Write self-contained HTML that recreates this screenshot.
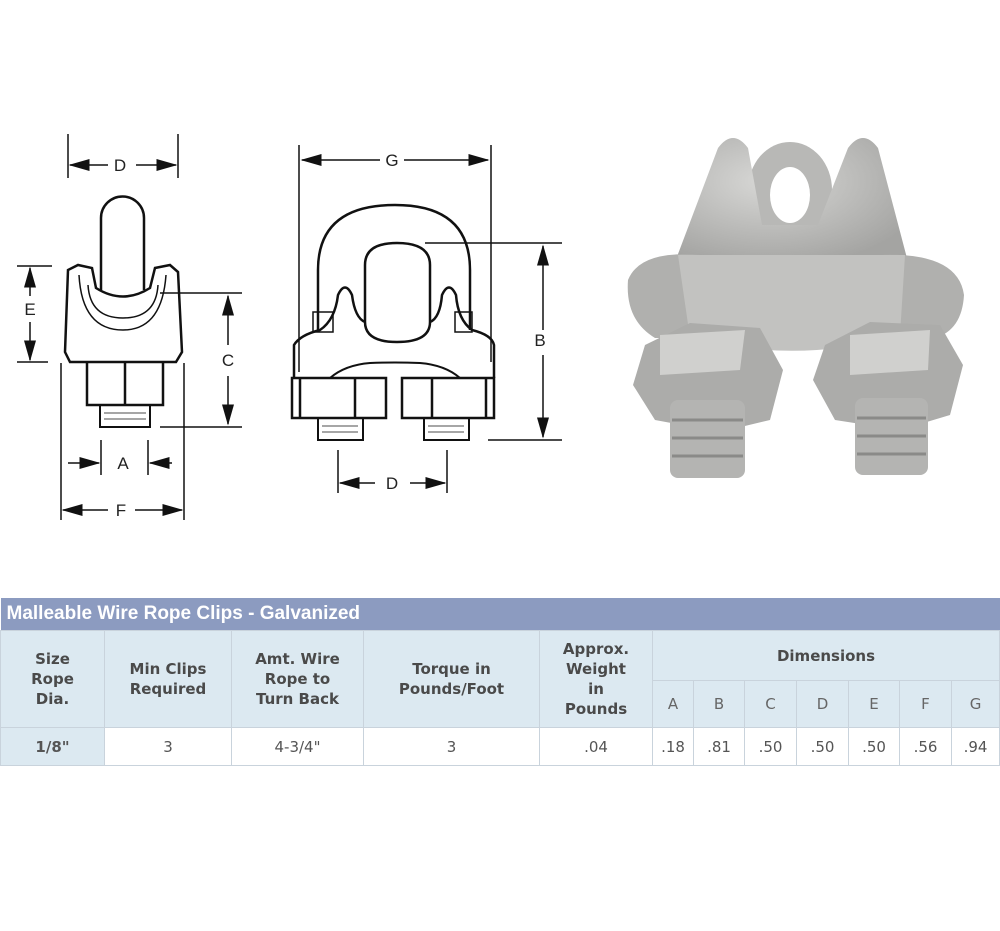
<!DOCTYPE html>
<html><head><meta charset="utf-8"><style>
body{margin:0;background:#fff;width:1000px;height:931px;position:relative;overflow:hidden;font-family:"Liberation Sans",sans-serif}
svg{position:absolute;left:0;top:0}
table{position:absolute;left:0;top:598px;width:1000px;border-collapse:collapse;font-family:"DejaVu Sans","Liberation Sans",sans-serif;font-size:15px;color:#555}
td{border:1px solid #c9d3dc;text-align:center;padding:0}
.t{background:#8c9bc0;color:#fff;text-align:left;font-weight:bold;font-family:"Liberation Sans",sans-serif;font-size:19px;height:32px;padding-left:6px;border:none}
.h{background:#dce9f1;font-weight:bold;color:#4a4a4a;font-size:15px;line-height:20px}
.hl{background:#dce9f1;color:#666;font-size:15px}
.d td{height:37px;color:#555}
</style></head><body>
<svg width="1000" height="600" viewBox="0 0 1000 600">
<defs>
<marker id="a" markerWidth="14" markerHeight="8" refX="13" refY="4" orient="auto"><path d="M0,0 L14,4 L0,8 Z" fill="#111"/></marker>
<radialGradient id="g" cx="40%" cy="35%" r="70%"><stop offset="0" stop-color="#d8d8d6"/><stop offset="1" stop-color="#a4a4a2"/></radialGradient>
</defs>
<g stroke="#111" stroke-width="1.5" fill="none">
<line x1="68" y1="134" x2="68" y2="178"/><line x1="178" y1="134" x2="178" y2="178"/>
<line x1="108" y1="165" x2="70" y2="165" marker-end="url(#a)"/><line x1="136" y1="165" x2="176" y2="165" marker-end="url(#a)"/>
<line x1="17" y1="266" x2="52" y2="266"/><line x1="17" y1="362" x2="48" y2="362"/>
<line x1="30" y1="296" x2="30" y2="268" marker-end="url(#a)"/><line x1="30" y1="322" x2="30" y2="360" marker-end="url(#a)"/>
<line x1="160" y1="293" x2="242" y2="293"/><line x1="160" y1="427" x2="242" y2="427"/>
<line x1="228" y1="345" x2="228" y2="296" marker-end="url(#a)"/><line x1="228" y1="376" x2="228" y2="424" marker-end="url(#a)"/>
<line x1="101" y1="440" x2="101" y2="475"/><line x1="148" y1="440" x2="148" y2="475"/>
<line x1="68" y1="463" x2="99" y2="463" marker-end="url(#a)"/><line x1="172" y1="463" x2="150" y2="463" marker-end="url(#a)"/>
<line x1="61" y1="363" x2="61" y2="520"/><line x1="184" y1="363" x2="184" y2="520"/>
<line x1="108" y1="510" x2="63" y2="510" marker-end="url(#a)"/><line x1="135" y1="510" x2="182" y2="510" marker-end="url(#a)"/>
<path d="M101,290 V218 a21,21 0 0 1 43,0 V290" stroke-width="2.5"/>
<path d="M65,352 L68,270 L78,265 L92,268 L96,288 Q123,305 150,288 L155,268 L170,265 L178,272 L182,352 L176,362 L70,362 Z" stroke-width="2.5"/>
<path d="M79,275 Q82,330 123,330 Q162,330 166,275" stroke-width="1.5"/>
<path d="M88,285 Q90,318 123,318 Q156,318 158,285" stroke-width="1.5"/>
<path d="M87,362 V405 H163 V362 M125,362 V405" stroke-width="2.5"/>
<rect x="100" y="405" width="50" height="22" stroke-width="2"/>
<line x1="104" y1="413" x2="146" y2="413" stroke="#888"/><line x1="104" y1="419" x2="146" y2="419" stroke="#888"/>
<line x1="299" y1="145" x2="299" y2="372"/><line x1="491" y1="145" x2="491" y2="362"/>
<line x1="380" y1="160" x2="302" y2="160" marker-end="url(#a)"/><line x1="404" y1="160" x2="488" y2="160" marker-end="url(#a)"/>
<line x1="425" y1="243" x2="562" y2="243"/><line x1="488" y1="440" x2="562" y2="440"/>
<line x1="543" y1="330" x2="543" y2="246" marker-end="url(#a)"/><line x1="543" y1="355" x2="543" y2="437" marker-end="url(#a)"/>
<line x1="338" y1="450" x2="338" y2="493"/><line x1="447" y1="450" x2="447" y2="493"/>
<line x1="375" y1="483" x2="340" y2="483" marker-end="url(#a)"/><line x1="410" y1="483" x2="445" y2="483" marker-end="url(#a)"/>
<path d="M318,330 V270 Q318,205 395,205 Q470,205 470,270 V330" stroke-width="2.5"/>
<path d="M365,265 Q365,243 397,243 Q430,243 430,265 V322 Q430,342 397,342 Q365,342 365,322 Z" stroke-width="2.5"/>
<path d="M294,378 V345 Q300,335 320,330 Q335,320 338,295 Q345,280 352,295 Q355,318 365,322 M430,322 Q440,318 442,295 Q449,280 456,295 Q458,320 472,330 Q492,335 494,345 V378" stroke-width="2.5"/>
<path d="M330,378 Q345,365 370,363 Q395,362 420,363 Q445,365 460,378" stroke-width="2"/>
<rect x="313" y="312" width="20" height="20" stroke-width="1.5"/><rect x="455" y="312" width="17" height="20" stroke-width="1.5"/>
<path d="M292,378 H386 V418 H292 Z M300,378 V418 M355,378 V418 M402,378 H494 V418 H402 Z M432,378 V418 M486,378 V418" stroke-width="2.5"/>
<rect x="318" y="418" width="45" height="22" stroke-width="2"/><rect x="424" y="418" width="45" height="22" stroke-width="2"/>
<path d="M322,426 H358 M322,432 H358 M428,426 H464 M428,432 H464" stroke="#888"/>
</g>
<g font-family="Liberation Sans" font-size="17" fill="#222" text-anchor="middle">
<text x="120" y="171">D</text><text x="30" y="315">E</text><text x="228" y="366">C</text>
<text x="123" y="469">A</text><text x="121" y="516">F</text>
<text x="392" y="166">G</text><text x="540" y="346">B</text><text x="392" y="489">D</text>
</g>
<g>
<ellipse cx="790" cy="190" rx="42" ry="48" fill="#b8b8b6"/><ellipse cx="790" cy="195" rx="20" ry="28" fill="#fff"/>
<path d="M675,262 L718,148 Q733,128 748,148 L762,225 L818,225 L848,148 Q863,128 878,148 L908,262 Z" fill="url(#g)"/>
<path d="M628,280 Q640,250 700,255 L880,255 Q958,252 964,295 Q962,330 935,338 L655,338 Q625,320 628,280 Z" fill="#b0b0ae"/>
<path d="M678,255 L905,255 L900,335 Q800,365 690,338 Z" fill="#c2c2c0"/>
<polygon points="645,345 690,323 760,328 783,370 770,420 720,432 655,420 633,385" fill="#acacaa"/>
<polygon points="825,345 870,322 940,325 963,365 950,415 900,430 835,420 813,380" fill="#acacaa"/>
<path d="M660,335 L745,330 L740,370 L660,375 Z" fill="#d0d0ce"/><path d="M850,335 L930,330 L928,370 L850,375 Z" fill="#d0d0ce"/>
<rect x="670" y="400" width="75" height="78" rx="8" fill="#b4b4b2"/><rect x="855" y="398" width="73" height="77" rx="8" fill="#b4b4b2"/>
<path d="M672,420 H743 M672,438 H743 M672,456 H743 M857,418 H926 M857,436 H926 M857,454 H926" stroke="#8a8a88" stroke-width="3"/>
</g>
</svg>
<table>
<tr><td colspan="12" class="t">Malleable Wire Rope Clips - Galvanized</td></tr>
<tr class="h" style="height:50px"><td rowspan="2" style="width:103px">Size<br>Rope<br>Dia.</td><td rowspan="2" style="width:126px">Min Clips<br>Required</td><td rowspan="2" style="width:131px">Amt. Wire<br>Rope to<br>Turn Back</td><td rowspan="2" style="width:175px">Torque in<br>Pounds/Foot</td><td rowspan="2" style="width:112px">Approx.<br>Weight<br>in<br>Pounds</td><td colspan="7">Dimensions</td></tr>
<tr style="height:47px"><td class="hl" style="width:40px">A</td><td class="hl" style="width:50px">B</td><td class="hl" style="width:51px">C</td><td class="hl" style="width:51px">D</td><td class="hl" style="width:50px">E</td><td class="hl" style="width:51px">F</td><td class="hl">G</td></tr>
<tr class="d"><td style="background:#dce9f1;font-weight:bold">1/8"</td><td>3</td><td>4-3/4"</td><td>3</td><td>.04</td><td>.18</td><td>.81</td><td>.50</td><td>.50</td><td>.50</td><td>.56</td><td>.94</td></tr>
</table>
</body></html>
